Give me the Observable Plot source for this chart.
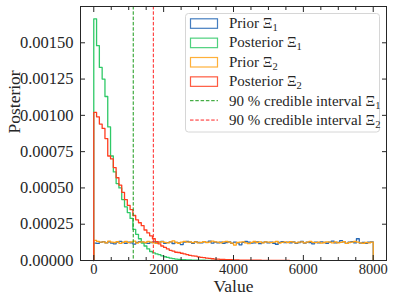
<!DOCTYPE html>
<html>
<head>
<meta charset="utf-8">
<script src="https://cdn.jsdelivr.net/npm/d3@7"></script>
<script src="https://cdn.jsdelivr.net/npm/@observablehq/plot@0.6"></script>
<style>
  html, body { margin: 0; padding: 0; background: white; }
</style>
</head>
<body>
<div id="chart"></div>
<script>
// ---- data (histogram densities, bins of equal width starting at 0) ----
const binStart = 0;
const binWidth = 80;

// Prior Ξ1 (x 1e-6), 100 bins 0..8000
const prior1 = [120,118,125,130,122,128,120,115,126,132,124,119,127,121,113,125,130,127,122,118,
124,129,121,126,131,119,123,128,117,125,122,110,127,132,126,118,130,124,121,128,
125,133,120,126,122,127,119,124,129,118,126,121,108,125,131,127,120,122,129,116,
124,128,121,127,119,112,125,130,123,126,122,128,118,124,131,120,126,123,115,127,
122,129,124,119,126,133,121,125,137,128,118,126,130,122,150,120,124,119,126,128];

// Posterior Ξ1 (x 1e-6)
const post1 = [1665,1480,1330,1250,1130,920,720,610,530,500,420,370,330,290,215,180,150,120,100,80,
62,52,45,40,32,26,21,16,13,10,8,6,5,4,4,3,3,2,2,2,1,1,1,1,1];

// Prior Ξ2 (x 1e-6), 100 bins 0..8000
const prior2 = [138,132,126,129,121,134,127,124,130,118,125,131,123,128,133,120,126,129,124,131,
127,122,118,126,130,125,121,128,135,124,119,127,132,126,129,123,128,121,125,130,
124,127,133,129,126,122,128,131,126,120,106,124,127,129,121,116,125,131,124,128,
122,129,126,123,127,131,120,125,128,124,130,126,122,127,129,121,126,132,125,123,
127,120,124,129,126,122,128,121,125,130,118,124,127,131,126,122,119,124,121,127];

// Posterior Ξ2 (x 1e-6)
const post2 = [1020,990,940,910,840,720,700,640,570,520,470,420,380,350,310,280,260,240,210,190,
170,150,130,115,100,90,80,70,65,57,55,50,45,40,35,32,30,25,22,20,
16,14,12,10,9,8,7,6,5,5,4,4,3,3,3,2,2,2,2,2,1,1,1,1,1,1,1,1,1,1];

const valueScale = 1e-6;

// 90 % credible interval bounds
const ci1 = 1130;
const ci2 = 1705;

const seriesNames = ["Prior Ξ1", "Posterior Ξ1", "Prior Ξ2", "Posterior Ξ2"];
const ciNames = ["90 % credible interval Ξ1", "90 % credible interval Ξ2"];

const xMajor = [0, 2000, 4000, 6000, 8000];
const xMinor = [500,1000,1500,2500,3000,3500,4500,5000,5500,6500,7000,7500];
const yMajor = [0, 0.00025, 0.0005, 0.00075, 0.001, 0.00125, 0.0015];

// ---- styling ----
const colors = {
  prior1: "#2466b4",
  post1: "#2fc967",
  prior2: "#ffa216",
  post2: "#ff3d1f",
  ci1: "#1a9a1a",
  ci2: "#ff2222"
};

// step outline like matplotlib histtype="step"
function stepPoints(vals) {
  const pts = [{x: binStart, y: 0}];
  vals.forEach((v, i) => pts.push({x: binStart + i * binWidth, y: v * valueScale}));
  const end = binStart + vals.length * binWidth;
  pts.push({x: end, y: vals[vals.length - 1] * valueScale});
  pts.push({x: end, y: 0});
  return pts;
}

const font = "'Liberation Serif', 'DejaVu Serif', serif";
const ink = "#262626";

const plot = Plot.plot({
  width: 395,
  height: 305,
  marginLeft: 80,
  marginRight: 9,
  marginTop: 6,
  marginBottom: 45,
  style: {fontFamily: font, fontSize: "14.5px", color: ink, background: "white", overflow: "visible"},
  x: {domain: [-380, 8380]},
  y: {domain: [0, 0.00175]},
  marks: [
    Plot.line(stepPoints(prior1), {x: "x", y: "y", curve: "step-after", stroke: colors.prior1, strokeWidth: 1.3}),
    Plot.line(stepPoints(post1), {x: "x", y: "y", curve: "step-after", stroke: colors.post1, strokeWidth: 1.3}),
    Plot.line(stepPoints(prior2), {x: "x", y: "y", curve: "step-after", stroke: colors.prior2, strokeWidth: 1.3}),
    Plot.line(stepPoints(post2), {x: "x", y: "y", curve: "step-after", stroke: colors.post2, strokeWidth: 1.3}),
    Plot.ruleX([ci1], {stroke: colors.ci1, strokeWidth: 1, strokeDasharray: "3.5,1.8"}),
    Plot.ruleX([ci2], {stroke: colors.ci2, strokeWidth: 1, strokeDasharray: "3.5,1.8"}),
    Plot.frame({stroke: ink, strokeWidth: 1}),
    // x axis
    Plot.axisX({anchor: "bottom", ticks: xMajor, tickSize: -5, tickPadding: 8, tickFormat: d => String(d), label: null, fontSize: 14.5, stroke: ink}),
    Plot.axisX({anchor: "bottom", ticks: xMinor, tickSize: -3, tickFormat: () => "", label: null, stroke: ink}),
    Plot.axisX({anchor: "top", ticks: xMajor, tickSize: -5, tickFormat: () => "", label: null, stroke: ink}),
    Plot.axisX({anchor: "top", ticks: xMinor, tickSize: -3, tickFormat: () => "", label: null, stroke: ink}),
    // y axis
    Plot.axisY({anchor: "left", ticks: yMajor, tickSize: -5, tickPadding: 12, tickFormat: d3.format(".5f"), label: null, fontSize: 16.5, stroke: ink}),
    Plot.axisY({anchor: "right", ticks: yMajor, tickSize: -5, tickFormat: () => "", label: null, stroke: ink}),
    // axis titles
    Plot.text(["Value"], {frameAnchor: "bottom", dy: 31, fontSize: 17.5, fill: ink}),
    Plot.text(["Posterior"], {frameAnchor: "left", dx: -66, rotate: -90, fontSize: 17.5, fill: ink})
  ]
});

document.getElementById("chart").appendChild(plot);

// ---- legend ----
const svg = d3.select(plot);
const lg = svg.append("g")
  .attr("font-family", font)
  .attr("font-size", 15)
  .attr("text-anchor", "start")
  .attr("fill", ink);

lg.append("rect")
  .attr("x", 185.5).attr("y", 13.5).attr("width", 194).attr("height", 118.5)
  .attr("rx", 3).attr("ry", 3)
  .style("fill", "#ffffff").style("fill-opacity", 0.85)
  .style("stroke", "#d6d6d6").style("stroke-width", "1px");

const rowY = i => 23.3 + i * 19.35;
const patchColors = [colors.prior1, colors.post1, colors.prior2, colors.post2];
const lineColors = [colors.ci1, colors.ci2];
const allNames = seriesNames.concat(ciNames);

function addLabel(i, name) {
  const t = lg.append("text").attr("x", 229).attr("y", rowY(i) + 4.8).attr("text-anchor", "start");
  const m = name.match(/^(.*Ξ)(\d)$/);
  t.append("tspan").text(m[1]);
  t.append("tspan").attr("dy", 3).attr("font-size", 10.5).text(m[2]);
}

patchColors.forEach((c, i) => {
  lg.append("rect")
    .attr("x", 190.5).attr("y", rowY(i) - 4.5).attr("width", 27).attr("height", 9.5)
    .style("fill", "none").style("stroke", c).style("stroke-opacity", 0.85).style("stroke-width", "1.2px");
  addLabel(i, allNames[i]);
});
lineColors.forEach((c, j) => {
  const i = j + 4;
  lg.append("path")
    .attr("d", `M190,${rowY(i)}H218`)
    .style("fill", "none").style("stroke", c).style("stroke-width", "1px").style("stroke-dasharray", "3.5,1.8");
  addLabel(i, allNames[i]);
});
</script>
</body>
</html>
